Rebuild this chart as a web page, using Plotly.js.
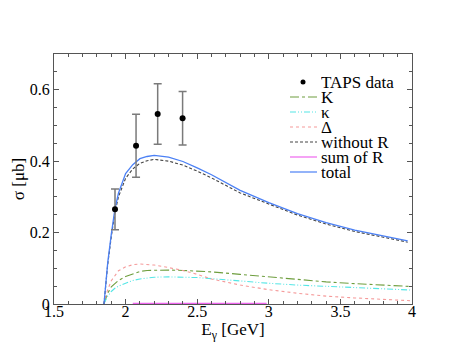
<!DOCTYPE html>
<html><head><meta charset="utf-8">
<script src="https://cdn.plot.ly/plotly-3.0.1.min.js"></script>
<style>html,body{margin:0;padding:0;background:#fff}</style>
</head><body><div id="plot" style="width:463px;height:358px"></div>
<script>
// TAPS data
const tapsE = [1.926, 2.073, 2.224, 2.398];
const tapsSigma = [0.265, 0.443, 0.532, 0.520];
const tapsErr = [0.057, 0.088, 0.085, 0.075];

// model curves
const eMain = [1.849, 1.875, 1.9, 1.925, 1.95, 2.0, 2.05, 2.1, 2.15, 2.2, 2.3, 2.4, 2.5, 2.6, 2.8, 3.0, 3.2, 3.4, 3.6, 3.8, 3.97];
const total = [0, 0.115, 0.195, 0.265, 0.31, 0.365, 0.39, 0.407, 0.413, 0.416, 0.411, 0.399, 0.381, 0.362, 0.318, 0.284, 0.253, 0.228, 0.207, 0.19, 0.177];
const withoutR = [0, 0.11, 0.188, 0.255, 0.3, 0.352, 0.378, 0.394, 0.401, 0.405, 0.4, 0.389, 0.372, 0.353, 0.311, 0.279, 0.249, 0.224, 0.203, 0.187, 0.173];

const eSmall = [1.848, 1.875, 1.9, 1.925, 1.95, 2.0, 2.05, 2.1, 2.15, 2.2, 2.3, 2.4, 2.5, 2.6, 2.8, 3.0, 3.2, 3.4, 3.6, 3.8, 4.0];
const kaon = [0, 0.03, 0.048, 0.058, 0.066, 0.077, 0.085, 0.091, 0.094, 0.095, 0.095, 0.094, 0.092, 0.09, 0.083, 0.076, 0.068, 0.062, 0.057, 0.053, 0.049];
const kappa = [0, 0.022, 0.035, 0.044, 0.05, 0.059, 0.066, 0.07, 0.073, 0.075, 0.076, 0.076, 0.074, 0.071, 0.064, 0.058, 0.053, 0.049, 0.046, 0.042, 0.039];
const delta = [0, 0.04, 0.065, 0.08, 0.093, 0.104, 0.11, 0.112, 0.111, 0.109, 0.102, 0.094, 0.083, 0.07, 0.053, 0.04, 0.03, 0.022, 0.017, 0.013, 0.009];

const eSumR = [2.05, 2.5, 2.985];
const sumR = [0.002, 0.002, 0.002];

const names = ['TAPS data', 'K', 'κ', 'Δ', 'without R', 'sum of R', 'total'];
const colors = ['#000000', '#6e9e3e', '#55e6e6', '#f59a9a', '#444444', '#ee66ee', '#4b80f5'];
const dashes = [null, 'dashdot', '6px,2px,1px,2px,1px,2px', 'dot', '3px,2px', 'solid', 'solid'];

const xTickVals = [1.5, 2, 2.5, 3, 3.5, 4];
const yTickVals = [0, 0.2, 0.4, 0.6];

const font = 'Liberation Serif';

function line(x, y, i) {
  return {x: x, y: y, type: 'scatter', mode: 'lines', name: names[i], showlegend: false,
    line: {color: colors[i], dash: dashes[i], width: i >= 5 ? 1.3 : 1.1}};
}

const traces = [
  line(eSmall, kaon, 1),
  line(eSmall, kappa, 2),
  line(eSmall, delta, 3),
  line(eSumR, sumR, 5),
  line(eMain, withoutR, 4),
  line(eMain, total, 6),
  {x: tapsE, y: tapsSigma, type: 'scatter', mode: 'markers', name: names[0], showlegend: false,
   marker: {color: '#000', size: 6},
   error_y: {type: 'data', array: tapsErr, color: '#7a7a7a', thickness: 1.5, width: 4}}
];

// legend built from names/colors/dashes
const W = 463, H = 358, L = 54, R = 51, T = 54, B = 54;
const pw = W - L - R, ph = H - T - B;
const px = v => (v - L) / pw;
const py = v => (H - B - v) / ph;
const shapes = [], annotations = [];
names.forEach((n, i) => {
  const yy = py(82 + i * 15);
  if (i === 0) {
    shapes.push({type: 'circle', xref: 'paper', yref: 'paper', x0: px(300.5), x1: px(305.5), y0: yy - 2.5 / ph, y1: yy + 2.5 / ph,
      fillcolor: '#000', line: {width: 0}});
  } else {
    shapes.push({type: 'line', xref: 'paper', yref: 'paper', x0: px(290), x1: px(317), y0: yy, y1: yy,
      line: {color: colors[i], dash: dashes[i], width: 1.2}});
  }
  annotations.push({xref: 'paper', yref: 'paper', x: px(320), y: yy, xanchor: 'left', yanchor: 'middle',
    text: n, showarrow: false, height: 14, valign: 'middle', borderpad: 0,
    font: {family: font, size: 17, color: '#000'}});
});

const axisCommon = {
  showgrid: false, zeroline: false, showline: true, linecolor: '#555', linewidth: 1,
  mirror: 'allticks', ticks: 'inside', ticklen: 5, tickcolor: '#555', tickwidth: 1,
  tickfont: {family: font, size: 16, color: '#000'}
};

const layout = {
  width: W, height: H, margin: {l: L, r: R, t: T, b: B},
  paper_bgcolor: '#fff', plot_bgcolor: '#fff', showlegend: false,
  font: {family: font},
  xaxis: Object.assign({}, axisCommon, {range: [1.5, 4], tickvals: xTickVals, ticklabelstandoff: -7,
    minor: {dtick: 0.1, ticklen: 3, tickcolor: '#555', ticks: 'inside'},
    title: {text: 'E<sub>γ</sub> [GeV]', font: {family: font, size: 17, color: '#000'}, standoff: 0}}),
  yaxis: Object.assign({}, axisCommon, {range: [0, 0.7], tickvals: yTickVals,
    minor: {dtick: 0.05, ticklen: 3, tickcolor: '#555', ticks: 'inside'},
    title: {text: 'σ [μb]', font: {family: font, size: 17, color: '#000'}, standoff: 0}}),
  shapes: shapes, annotations: annotations
};

Plotly.newPlot('plot', traces, layout, {staticPlot: true, displayModeBar: false});
</script></body></html>
